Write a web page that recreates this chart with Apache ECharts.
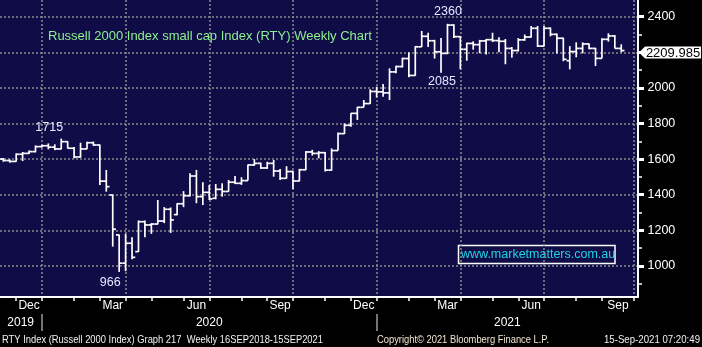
<!DOCTYPE html>
<html><head><meta charset="utf-8">
<script src="https://cdn.jsdelivr.net/npm/echarts/dist/echarts.min.js"></script>
<style>html,body{margin:0;padding:0;background:#000}#c{width:702px;height:347px}</style>
</head><body><div id="c"></div>
<script>
// ---- Data (weekly bars, RTY) ----
const weekDates = [
'2019-11-15','2019-11-22','2019-11-29','2019-12-06','2019-12-13','2019-12-20','2019-12-27',
'2020-01-03','2020-01-10','2020-01-17','2020-01-24','2020-01-31','2020-02-07','2020-02-14','2020-02-21','2020-02-28',
'2020-03-06','2020-03-13','2020-03-20','2020-03-27','2020-04-03','2020-04-09','2020-04-17','2020-04-24',
'2020-05-01','2020-05-08','2020-05-15','2020-05-22','2020-05-29','2020-06-05','2020-06-12','2020-06-19','2020-06-26',
'2020-07-02','2020-07-10','2020-07-17','2020-07-24','2020-07-31','2020-08-07','2020-08-14','2020-08-21','2020-08-28',
'2020-09-04','2020-09-11','2020-09-18','2020-09-25','2020-10-02','2020-10-09','2020-10-16','2020-10-23','2020-10-30',
'2020-11-06','2020-11-13','2020-11-20','2020-11-27','2020-12-04','2020-12-11','2020-12-18','2020-12-24','2020-12-31',
'2021-01-08','2021-01-15','2021-01-22','2021-01-29','2021-02-05','2021-02-12','2021-02-19','2021-02-26',
'2021-03-05','2021-03-12','2021-03-19','2021-03-26','2021-04-01','2021-04-09','2021-04-16','2021-04-23','2021-04-30',
'2021-05-07','2021-05-14','2021-05-21','2021-05-28','2021-06-04','2021-06-11','2021-06-18','2021-06-25',
'2021-07-02','2021-07-09','2021-07-16','2021-07-23','2021-07-30','2021-08-06','2021-08-13','2021-08-20','2021-08-27',
'2021-09-03','2021-09-10','2021-09-15'];
const openVals = [
1600,1592,1587,1627,1632,1642,1670,
1675,1667,1657,1698,1661,1612,1657,1692,1679,
1476,1398,1174,1015,1127,1080,1248,1230,
1235,1252,1318,1288,1349,1394,1505,1389,1413,
1380,1430,1418,1470,1464,1479,1567,1576,1550,
1576,1533,1492,1530,1477,1540,1640,1632,1636,
1538,1648,1743,1790,1857,1891,1912,1980,1978,
1972,2090,2120,2165,2070,2231,2290,2265,
2203,2194,2353,2288,2217,2250,2243,2264,2271,
2266,2262,2222,2210,2270,2286,2335,2235,
2335,2301,2279,2153,2204,2222,2247,2222,2166,
2273,2292,2222];
const highVals = [
1606,1598,1632,1640,1648,1677,1680,
1688,1683,1715,1700,1668,1692,1697,1698,1682,
1539,1400,1176,1180,1161,1255,1255,1240,
1370,1330,1328,1352,1420,1520,1539,1470,1455,
1460,1464,1483,1505,1498,1570,1600,1580,1585,
1595,1544,1560,1535,1545,1645,1652,1645,1640,
1660,1750,1801,1857,1894,1932,1992,2007,2022,
2110,2125,2170,2200,2235,2320,2310,2270,
2280,2360,2358,2290,2254,2262,2270,2275,2310,
2285,2275,2230,2280,2300,2348,2348,2348,
2340,2306,2282,2235,2256,2256,2250,2225,2279,
2307,2297,2245];
const lowVals = [
1585,1580,1585,1589,1628,1638,1665,
1655,1650,1655,1660,1605,1608,1655,1675,1454,
1417,1108,966,970,1037,1078,1161,1180,
1233,1240,1185,1284,1330,1390,1352,1342,1370,
1374,1389,1417,1460,1455,1479,1563,1545,1545,
1501,1483,1490,1432,1475,1538,1620,1604,1530,
1535,1648,1741,1782,1820,1891,1910,1947,1951,
1932,2082,2115,2060,2068,2230,2230,2165,
2085,2190,2280,2105,2153,2215,2195,2188,2258,
2200,2133,2170,2205,2265,2283,2230,2233,
2290,2194,2150,2104,2172,2194,2217,2123,2166,
2260,2222,2200];
const closeVals = [
1592,1587,1627,1632,1642,1670,1675,
1667,1657,1698,1661,1612,1657,1692,1679,1476,
1445,1206,1015,1127,1048,1248,1230,1235,
1252,1318,1258,1349,1394,1505,1389,1413,1376,
1430,1418,1470,1464,1479,1567,1576,1550,1576,
1533,1492,1530,1477,1540,1640,1632,1636,1538,
1648,1743,1790,1857,1891,1912,1980,1978,1972,
2090,2120,2165,2070,2231,2290,2265,2203,
2194,2353,2288,2217,2250,2243,2264,2271,2266,
2262,2222,2210,2270,2286,2335,2235,2335,
2301,2279,2161,2204,2222,2247,2222,2166,2273,
2292,2222,2209.985];

// ---- Axis ticks / labels (in week-index units) ----
const monthTickPos   = [2,6,11,15,19,23,28,32,37,41,45,50,54,58,63,67,71,76,80,84,89,93,98];
const quarterGridPos = [6,19,32,45,58,71,84,98];
const monthLabelPos  = [4,17,30,43,56,69,82,95.5];
const monthLabelText = ['Dec','Mar','Jun','Sep','Dec','Mar','Jun','Sep'];
const yearSepPos     = [6,58];
const yearLabelPos   = [2.7,32,78.3];
const yearLabelText  = ['2019','2020','2021'];
const yMajorTicks    = [1000,1200,1400,1600,1800,2000,2200,2400];
const yMinorTicks    = [900,1100,1300,1500,1700,1900,2100,2300];
// annotated bars: [index, which]
const annotations = [[9,'high'],[18,'low'],[69,'high'],[68,'low']];

const chartTitle = 'Russell 2000 Index small cap Index (RTY) Weekly Chart';
const watermark = 'www.marketmatters.com.au';
const footerLeft = 'RTY Index (Russell 2000 Index) Graph 217  Weekly 16SEP2018-15SEP2021';
const footerMid = 'Copyright\u00A9 2021 Bloomberg Finance L.P.';
const footerRight = '15-Sep-2021 07:20:49';

// ---- Chart ----
const FONT = '"Liberation Sans", Arial, sans-serif';
const xMin = -0.513, xMax = 98.6, yMin = 825, yMax = 2494;
const GRID = {left:0, top:0, right:64, bottom:50};

function labelFrom(posArr, txtArr){
  return function(v){ let k=0,b=1e9; posArr.forEach((p,j)=>{const d=Math.abs(p-v); if(d<b){b=d;k=j;}}); return txtArr[k]; };
}
const ohlc = weekDates.map((d,i)=>[i, openVals[i], highVals[i], lowVals[i], closeVals[i]]);
const lastIdx = closeVals.length-1;

const ctx = document.createElement('canvas').getContext('2d');
function fitText(txt, x, y, width, color, size){
  ctx.font = size + 'px "Liberation Sans"';
  const w = ctx.measureText(txt).width;
  return {type:'text', x:x, y:y, scaleX: width/w, silent:true,
    style:{text:txt, fill:color, fontSize:size, fontFamily:'"Liberation Sans", Arial, sans-serif', verticalAlign:'middle', align:'left'}};
}

const annotOffsets = [[-12,-10.5],[-9,11.4],[0.5,-12],[1,9.2]];
const markData = annotations.map((a,k)=>{
  const idx=a[0]; const v = a[1]==='high'? highVals[idx] : lowVals[idx];
  return {coord:[idx, v], value:v, symbolSize:1, itemStyle:{color:'rgba(0,0,0,0)'},
    label:{show:true, position:'inside', offset:annotOffsets[k], formatter:String(v), color:'#e2eaff', fontSize:12.5, fontFamily:FONT}};
});
markData.push({coord:[xMax, closeVals[lastIdx]], value:closeVals[lastIdx],
  symbol:'path://M0,6L6,0L62,0L62,12L6,12Z', symbolSize:[62,12], symbolKeepAspect:false, symbolOffset:[32,2],
  itemStyle:{color:'#ffffff'},
  label:{show:true, position:'inside', offset:[3,0.5], formatter:closeVals[lastIdx].toFixed(3), color:'#000', fontSize:13, fontFamily:FONT}});

const grid0 = Object.assign({show:true, backgroundColor:'#100c48', borderWidth:0}, GRID);
const grid1 = Object.assign({show:false}, GRID);
const dotted = {color:'#8a8a8a', width:1.5, type:[2,2]};

const option = {
  backgroundColor:'#000',
  animation:false,
  title:{text:chartTitle, left:48, top:30, padding:0, textStyle:{color:'#8ef08e', fontSize:13, fontWeight:'normal', fontFamily:FONT}},
  grid:[grid0, grid1],
  xAxis:[
    {type:'value', gridIndex:0, min:xMin, max:xMax, position:'bottom',
     axisLine:{show:true, onZero:false, lineStyle:{color:'#fff', width:2}},
     axisTick:{show:true, customValues:monthTickPos, length:4, lineStyle:{color:'#fff', width:1.5}},
     axisLabel:{show:true, customValues:monthLabelPos, formatter:labelFrom(monthLabelPos, monthLabelText), color:'#fff', fontSize:12, fontFamily:FONT, margin:3},
     splitLine:{show:false}},
    {type:'value', gridIndex:0, min:xMin, max:xMax, position:'top',
     axisLine:{show:false}, axisTick:{show:false, customValues:quarterGridPos},
     axisLabel:{show:false, customValues:quarterGridPos},
     splitLine:{show:true, lineStyle:dotted}},
    {type:'value', gridIndex:1, min:xMin, max:xMax, position:'bottom', offset:17,
     axisLine:{show:false, onZero:false},
     axisTick:{show:true, customValues:yearSepPos, length:17, lineStyle:{color:'#9a9a9a', width:1.5}},
     axisLabel:{show:true, customValues:yearLabelPos, formatter:labelFrom(yearLabelPos, yearLabelText), color:'#fff', fontSize:12, fontFamily:FONT, margin:3},
     splitLine:{show:false}}
  ],
  yAxis:[
    {type:'value', gridIndex:0, min:yMin, max:yMax, position:'right',
     axisLine:{show:true, onZero:false, lineStyle:{color:'#fff', width:2}},
     axisTick:{show:true, customValues:yMajorTicks, length:6, lineStyle:{color:'#fff', width:3}},
     axisLabel:{show:true, customValues:yMajorTicks, formatter:function(v){return String(Math.round(v));}, color:'#fff', fontSize:12.5, fontFamily:FONT, margin:9.5},
     splitLine:{show:true, lineStyle:dotted}},
    {type:'value', gridIndex:1, min:yMin, max:yMax, position:'right',
     axisLine:{show:false, onZero:false},
     axisTick:{show:true, customValues:yMinorTicks, length:4, lineStyle:{color:'#fff', width:1.5}},
     axisLabel:{show:false, customValues:yMinorTicks}, splitLine:{show:false}}
  ],
  series:[
    {type:'custom', xAxisIndex:0, yAxisIndex:0, clip:true, silent:true, data:ohlc,
     renderItem:function(params, api){
       const i = api.value(0);
       const o = api.coord([i, api.value(1)]);
       const h = api.coord([i, api.value(2)]);
       const l = api.coord([i, api.value(3)]);
       const c = api.coord([i, api.value(4)]);
       const half = api.size([1,0])[0]/2;
       const st = {stroke:'#ffffff', lineWidth:1.7};
       return {type:'group', children:[
         {type:'line', shape:{x1:h[0], y1:h[1], x2:l[0], y2:l[1]}, style:st},
         {type:'line', shape:{x1:o[0]-half, y1:o[1], x2:o[0], y2:o[1]}, style:st},
         {type:'line', shape:{x1:c[0], y1:c[1], x2:c[0]+half, y2:c[1]}, style:st}
       ]};
     }},
    {type:'line', xAxisIndex:0, yAxisIndex:0, silent:true, showSymbol:false, z:5,
     data: closeVals.map((c,i)=>[i,c]), lineStyle:{opacity:0},
     markPoint:{silent:true, data:markData}}
  ],
  graphic:[
    {type:'rect', silent:true, shape:{x:458.5, y:245.5, width:156.5, height:18}, style:{fill:'none', stroke:'#fff', lineWidth:1.5}},
    {type:'text', silent:true, x:461, y:255, style:{text:watermark, fill:'#1ed4e4', fontSize:12.5, fontFamily:FONT, verticalAlign:'middle', align:'left'}},
    fitText(footerLeft, 2, 340, 321, '#f2f2f2', 11),
    fitText(footerMid, 377, 340, 172, '#f3e6cf', 11),
    fitText(footerRight, 604, 340, 96, '#f2f2f2', 11)
  ]
};
const chart = echarts.init(document.getElementById('c'), null, {renderer:'canvas', width:702, height:347});
chart.setOption(option);
</script>
</body></html>
